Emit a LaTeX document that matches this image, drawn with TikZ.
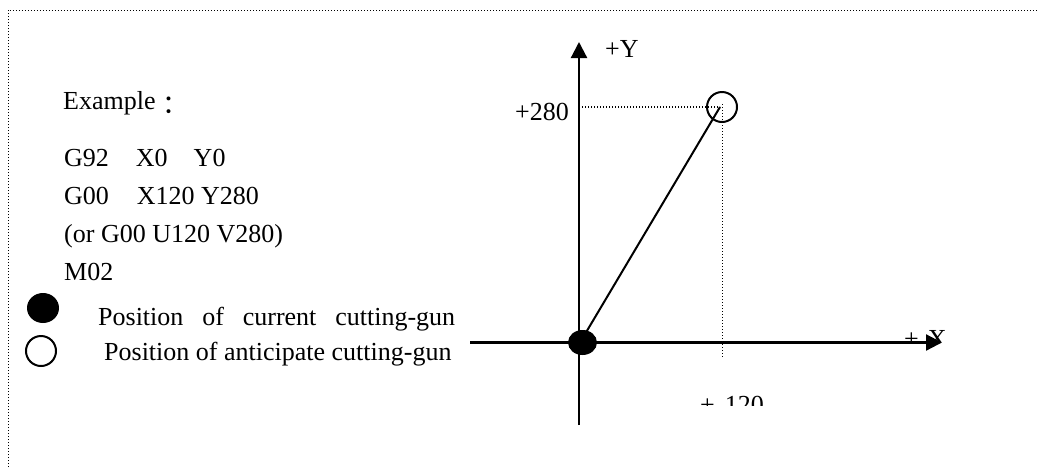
\documentclass[tikz,border=0pt]{standalone}
\usepackage{fontspec}
\setmainfont{Liberation Serif}
\newfontfamily\cjk{Noto Sans CJK SC}
\usetikzlibrary{arrows.meta,shapes.geometric}
\tikzset{
  txt/.style={anchor=base west,inner sep=0pt,font=\fontsize{26}{31}\selectfont},
  axis/.style={line width=2.2pt,-{Triangle[length=16pt,width=16pt]}},
  guide/.style={line width=1.2pt,dash pattern=on 1.3pt off 1.7pt},
  frame/.style={line width=1pt,dash pattern=on 1.2pt off 1.8pt},
  gun/.style={line width=2pt}
}
\begin{document}
\begin{tikzpicture}[x=1pt,y=-1pt]
\useasboundingbox (0,0) rectangle (1038,467);
% frame
\coordinate (fl) at (8,467);
\coordinate (fc) at (8,10);
\coordinate (fr) at (1038,10);
\draw[frame] (fl) -- (fc) -- (fr);
% text
\node[txt] (ex) at (63,109) {Example\hspace{7pt}\raisebox{-4pt}{\cjk ：}};
\node[txt] (l1) at (64,166) {G92\hspace{27pt}X0\hspace{26pt}Y0};
\node[txt] (l2) at (64,204) {G00\hspace{28pt}X120 Y280};
\node[txt] (l3) at (64,242) {(or G00 U120 V280)};
\node[txt] (l4) at (64,280) {M02};
\node[txt] (p1) at (98,325) {\makebox[357pt][s]{Position of current cutting-gun}};
\node[txt] (p2) at (104,360) {Position of anticipate cutting-gun};
% legend symbols
\node[fill=black,ellipse,draw=none,minimum width=32pt,minimum height=30pt,inner sep=0pt] (lf) at (43,308) {};
\node[draw,gun,circle,minimum size=30pt,inner sep=0pt] (lo) at (41,351) {};
% axes
\coordinate (O) at (580,342.5);
\coordinate (ybot) at (579,425);
\coordinate (ytop) at (579,42);
\coordinate (xleft) at (470,342.5);
\coordinate (xright) at (942,342.5);
\draw[axis] (ybot) -- (ytop);
\draw[axis] (xleft) -- (xright);
% target
\coordinate (T) at (720,107);
\coordinate (ty) at (582,107);
\coordinate (tx) at (722.5,357);
\coordinate (tt) at (722.5,104);
\draw[guide] (ty) -- (T);
\draw[guide] (tt) -- (tx);
\draw[gun] (O) -- (T);
\node[draw,gun,circle,minimum size=30pt,inner sep=0pt] (to) at (722,107) {};
\node[fill=black,ellipse,draw=none,minimum width=29pt,minimum height=25pt,inner sep=0pt] (cur) at (582.5,342.5) {};
% labels
\node[txt] (ly) at (605,57) {+Y};
\node[txt] (l280) at (515,120) {+280};
\begin{scope}
\clip (890,320) rectangle (960,341);
\node[txt] (lx) at (904,347) {+\hspace{9pt}X};
\end{scope}
\begin{scope}
\clip (690,385) rectangle (780,405);
\node[txt] (l120) at (700,413) {+\hspace{10pt}120};
\end{scope}
\end{tikzpicture}
\end{document}
